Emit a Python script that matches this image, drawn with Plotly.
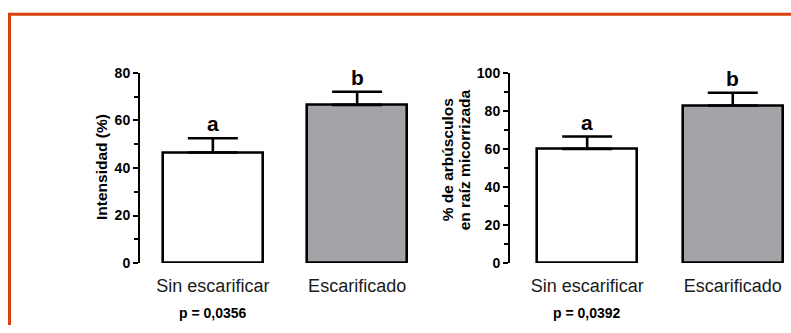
import plotly.graph_objects as go

# Data
categories = ["Sin escarificar", "Escarificado"]
intensidad_mean = [46.5, 66.5]
intensidad_err = [6.0, 5.5]
arbusculos_mean = [60.0, 82.8]
arbusculos_err = [6.5, 6.7]
letters_left = ["a", "b"]
letters_right = ["a", "b"]
p_left = "p = 0,0356"
p_right = "p = 0,0392"
title_left = "Intensidad (%)"
title_right_lines = ["% de arbúsculos", "en raíz micorrizada"]
bar_colors = ["#ffffff", "#a4a4a8"]

W, H = 791, 333
FONT = "Liberation Sans, Arial, Helvetica, sans-serif"


def px_x(p):
    return p / W


def px_y(p):
    return 1 - p / H


fig = go.Figure()

positions = list(range(len(categories)))

for means, errs, xa, ya in [
    (intensidad_mean, intensidad_err, "x", "y"),
    (arbusculos_mean, arbusculos_err, "x2", "y2"),
]:
    fig.add_trace(go.Bar(
        x=positions, y=means, width=0.69,
        marker=dict(color=bar_colors, line=dict(color="black", width=2.6)),
        error_y=dict(type="data", array=errs, arrayminus=[0] * len(errs),
                     symmetric=False, color="black", thickness=2.6, width=25),
        xaxis=xa, yaxis=ya, showlegend=False, hoverinfo="skip",
    ))

yaxis_common = dict(
    showline=True, linecolor="black", linewidth=2,
    ticks="outside", ticklen=5, tickwidth=2, tickcolor="black",
    showgrid=False, zeroline=False,
    tickfont=dict(family=FONT, size=14, color="black", weight="bold"),
    minor=dict(ticks="outside", ticklen=4, tickwidth=2, tickcolor="black", dtick=10),
)
xaxis_common = dict(
    showline=False, showgrid=False, zeroline=False, ticks="",
    tickvals=positions, ticktext=categories,
    tickfont=dict(family=FONT, size=18, color="#1a1a1a"),
    ticklabelstandoff=10,
)

Y0, Y_TOP = 268, 68

fig.update_layout(
    width=W, height=H,
    margin=dict(l=0, r=0, t=0, b=0),
    paper_bgcolor="white", plot_bgcolor="white",
    bargap=0,
    xaxis=dict(domain=[px_x(140), px_x(430)], range=[-0.505, 1.505], anchor="y", **xaxis_common),
    yaxis=dict(domain=[px_y(Y0), px_y(Y_TOP)], range=[0, 80], dtick=20, anchor="x", **yaxis_common),
    xaxis2=dict(domain=[px_x(510), 1.0], range=[-0.53, 1.40], anchor="y2", **xaxis_common),
    yaxis2=dict(domain=[px_y(Y0), px_y(Y_TOP)], range=[0, 100], dtick=20, anchor="x2", **yaxis_common),
)

annotations = []
letter_font = dict(family=FONT, size=21, color="black", weight="bold")
for xr, yr, means, errs, letters in [
    ("x", "y", intensidad_mean, intensidad_err, letters_left),
    ("x2", "y2", arbusculos_mean, arbusculos_err, letters_right),
]:
    for xi, m, e, lt in zip(positions, means, errs, letters):
        annotations.append(dict(x=xi, y=m + e, xref=xr, yref=yr, text=lt,
                                showarrow=False, xanchor="center", yanchor="bottom",
                                yshift=1, font=letter_font))

p_font = dict(family=FONT, size=14, color="black", weight="bold")
annotations.append(dict(x=0, y=px_y(320), xref="x", yref="paper", text=p_left,
                        showarrow=False, xanchor="center", yanchor="middle", font=p_font))
annotations.append(dict(x=0, y=px_y(320), xref="x2", yref="paper", text=p_right,
                        showarrow=False, xanchor="center", yanchor="middle", font=p_font))

title_font = dict(family=FONT, size=15.5, color="black", weight="bold")
annotations.append(dict(x=px_x(102), y=px_y(167), xref="paper", yref="paper",
                        text=title_left, textangle=-90, showarrow=False,
                        xanchor="center", yanchor="middle", font=title_font))
# Two-line y title on the right panel, one annotation per line for tight spacing
for line, xc in zip(title_right_lines, [447, 464]):
    annotations.append(dict(x=px_x(xc), y=px_y(160), xref="paper", yref="paper",
                            text=line, textangle=-90, showarrow=False,
                            xanchor="center", yanchor="middle", font=title_font))

fig.update_layout(annotations=annotations)

# Orange frame along the top and left edges
fig.add_shape(type="line", xref="paper", yref="paper",
              x0=px_x(9.5), y0=px_y(6.5), x1=1.0, y1=px_y(6.5),
              line=dict(color="#d9410e", width=3))
fig.add_shape(type="line", xref="paper", yref="paper",
              x0=px_x(9.5), y0=px_y(5), x1=px_x(9.5), y1=0,
              line=dict(color="#d9410e", width=3))

fig.write_html("out.html")
